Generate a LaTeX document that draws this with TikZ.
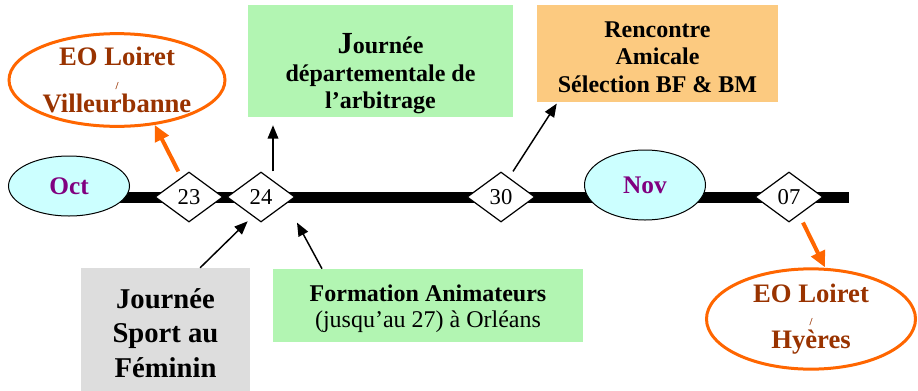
\documentclass[tikz,border=0pt]{standalone}
\usepackage{fontspec}
\setmainfont{Liberation Serif}
\usetikzlibrary{shapes.geometric,arrows.meta}
\definecolor{cyanpale}{RGB}{204,255,255}
\definecolor{violetmois}{RGB}{128,0,128}
\definecolor{orangevif}{RGB}{255,102,0}
\definecolor{brun}{RGB}{153,51,0}
\definecolor{vertpale}{RGB}{178,245,178}
\definecolor{orangepale}{RGB}{252,202,128}
\definecolor{grispale}{RGB}{221,221,221}
\begin{document}
\begin{tikzpicture}[x=0.75pt,y=-0.75pt,
  jour/.style={diamond,draw,line width=0.9pt,fill=white,minimum width=51pt,minimum height=37.5pt,inner sep=0pt,font=\fontsize{17}{17}\selectfont},
  mois/.style={ellipse,draw,line width=0.75pt,fill=cyanpale,minimum width=90.75pt,text=violetmois,font=\fontsize{19}{19}\selectfont\bfseries},
  match/.style={ellipse,draw=orangevif,line width=2.25pt,fill=white,text=brun,align=center,inner sep=0pt,font=\fontsize{20}{17.5}\selectfont\bfseries},
  boite/.style={rectangle,inner sep=0pt,align=center,font=\fontsize{18}{20.6}\selectfont\bfseries},
  fleche/.style={-{Triangle[length=10pt,width=8pt]},line width=1.1pt},
  flecheorange/.style={-{Triangle[length=12pt,width=11pt]},line width=3pt,draw=orangevif}]
\useasboundingbox (0,0) rectangle (918,390);
% the time line
\coordinate (debut) at (118,197);
\coordinate (fin) at (849,197);
\draw[line width=8.25pt] (debut) -- (fin);
\node[mois,minimum height=45pt] (oct) at (69,186) {Oct};
\node[mois,minimum height=52.5pt] (nov) at (645,185) {Nov};
\foreach \d/\x in {23/189,24/261,30/501,07/789} % the days
  \node[jour] (d\d) at (\x,197) {\d};
% boxes above
\node[boite,fill=vertpale,minimum width=198.75pt,minimum height=84pt] (arb) at (380.5,61) {};
\node[boite] (arbtexte) at (380.5,74) {{\fontsize{23}{23}\selectfont J}ournée\\départementale de\\l’arbitrage};
\node[boite,fill=orangepale,minimum width=180.75pt,minimum height=72.75pt] (renc) at (657.5,53.5) {};
\node[boite] (renctexte) at (657.5,57) {Rencontre\\Amicale\\Sélection BF \& BM};
\node[match,minimum width=162pt,minimum height=69pt] (vil) at (117,80)
  {EO Loiret\\{\fontsize{8}{8}\selectfont /}\\Villeurbanne};
% boxes below
\node[boite,fill=grispale,minimum width=126.75pt,minimum height=97.5pt,font=\fontsize{21.5}{26}\selectfont\bfseries] (fem) at (165.5,333)
  {Journée\\Sport au\\Féminin};
\node[boite,fill=vertpale,minimum width=232.5pt,minimum height=54.75pt] (form) at (428,305.5) {};
\node[boite,font=\fontsize{18}{19.5}\selectfont] (formtexte) at (428,309)
  {\textbf{Formation Animateurs}\\(jusqu’au 27) à Orléans};
\node[match,minimum width=156.75pt,minimum height=71.25pt] (hye) at (811,319)
  {EO Loiret\\{\fontsize{8}{8}\selectfont /}\\Hyères};
% arrows
\draw[flecheorange] ([xshift=-8pt]d23.north) -- (vil.310);
\draw[fleche] ([xshift=9pt]d24.north) -- ([xshift=9pt,yshift=-6pt]d24.north |- arb.south);
\draw[fleche] ([xshift=9pt]d30.north) -- ([xshift=15pt,yshift=-1pt]renc.south west);
\draw[fleche] ([xshift=26pt]fem.north) -- ([xshift=-10pt,yshift=1pt]d24.south);
\draw[fleche] ([xshift=-79.5pt]form.north) -- ([xshift=27pt]d24.south);
\draw[flecheorange] ([xshift=10.5pt]d07.south) -- ([xshift=10.5pt]hye.north);
\end{tikzpicture}
\end{document}
